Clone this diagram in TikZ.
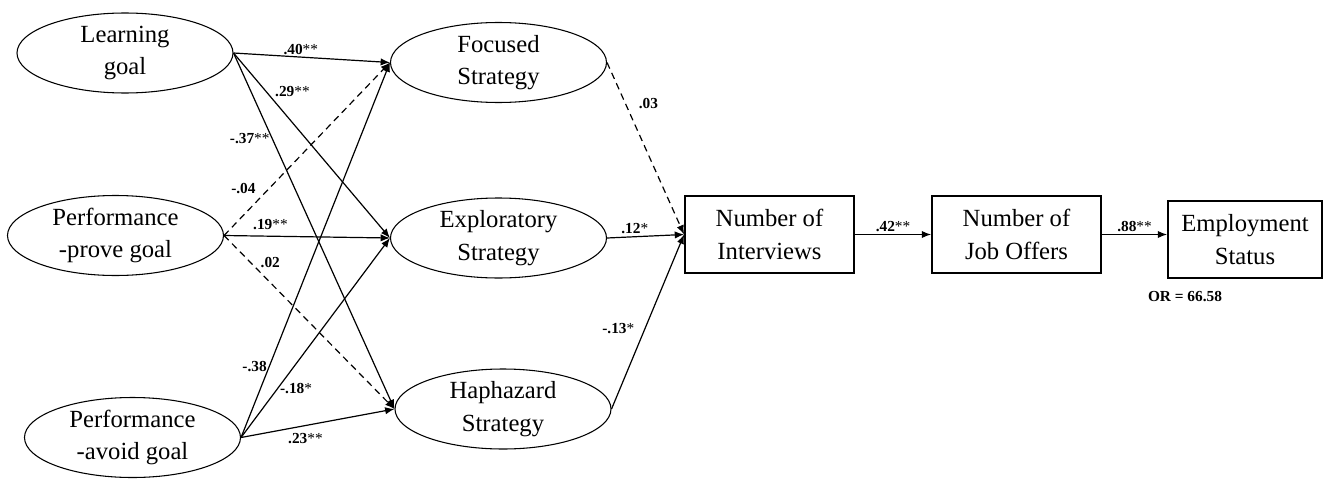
\documentclass[tikz,border=0pt]{standalone}
\usepackage{fontspec}
\setmainfont{Liberation Serif}
\usetikzlibrary{shapes.geometric,arrows.meta}

\begin{document}
\begin{tikzpicture}[
  x=0.75pt, y=-0.75pt,
  font=\rmfamily\fontsize{18.5}{24.5}\selectfont,
  >={Latex[length=7pt, width=5.5pt]},
  latent/.style={draw, ellipse, line width=0.8pt, inner sep=0pt, align=center, minimum width=162pt, minimum height=60pt},
  obs/.style={draw, rectangle, line width=1.1pt, inner sep=0pt, align=center, minimum width=127pt, minimum height=58pt},
  coef/.style={font=\rmfamily\fontsize{11.5}{12}\selectfont\bfseries, inner sep=1.5pt},
  eff/.style={->, line width=0.9pt},
  ns/.style={eff, dash pattern=on 5pt off 3.5pt}
]
  \useasboundingbox (0,0) rectangle (1326,478);

  % Goal orientations
  \node[latent] (learn) at (125,53)      {Learning\\goal};
  \node[latent] (prove) at (115.5,235.5) {Performance\\-prove goal};
  \node[latent] (avoid) at (132.5,437.5) {Performance\\-avoid goal};

  % Search strategies
  \node[latent] (focus) at (498.5,62.5) {Focused\\Strategy};
  \node[latent] (expl)  at (498.5,238)  {Exploratory\\Strategy};
  \node[latent] (hap)   at (503,409)    {Haphazard\\Strategy};

  % Outcomes
  \node[obs] (iv)  at (769.5,234.5)  {Number of\\Interviews};
  \node[obs] (jo)  at (1016.5,234.5) {Number of\\Job Offers};
  \node[obs, minimum width=115.5pt, line width=1.4pt] (emp) at (1245,239.5) {Employment\\Status};
  \node[coef] (or) at (1185,297) {OR = 66.58};

  % Goals -> strategies
  \draw[eff] (learn.east) -- node[coef, pos=0.43, above] {.40\textmd{**}} (focus.west);
  \draw[eff] (learn.east) -- node[coef, pos=0.25, above right] {.29\textmd{**}} (expl.west);
  \draw[eff] (learn.east) -- node[coef, pos=0.24, left] {-.37\textmd{**}} (hap.west);
  \draw[ns]  (prove.east) -- node[coef, pos=0.27, left, xshift=-8pt] {-.04} (focus.west);
  \draw[eff] (prove.east) -- node[coef, pos=0.28, above=3pt] {.19\textmd{**}} (expl.west);
  \draw[ns]  (prove.east) -- node[coef, pos=0.2, above right] {.02} (hap.west);
  \draw[eff] (avoid.east) -- node[coef, pos=0.19, left] {-.38} (focus.west);
  \draw[eff] (avoid.east) -- node[coef, pos=0.245, right] {-.18\textmd{*}} (expl.west);
  \draw[eff] (avoid.east) -- node[coef, pos=0.42, below=4pt] {.23\textmd{**}} (hap.west);

  % Strategies -> interviews
  \draw[ns]  (focus.east) -- node[coef, pos=0.24, right=8pt] {.03} (iv.west);
  \draw[eff] (expl.east)  -- node[coef, pos=0.36, above] {.12\textmd{*}} (iv.west);
  \draw[eff] (hap.east)   -- node[coef, pos=0.46, left, xshift=-6pt] {-.13\textmd{*}} (iv.west);

  % Interviews -> offers -> status
  \draw[eff] (iv) -- node[coef, above] {.42\textmd{**}} (jo);
  \draw[eff] (jo.east) -- node[coef, above] {.88\textmd{**}} (jo.east -| emp.west);
\end{tikzpicture}
\end{document}
